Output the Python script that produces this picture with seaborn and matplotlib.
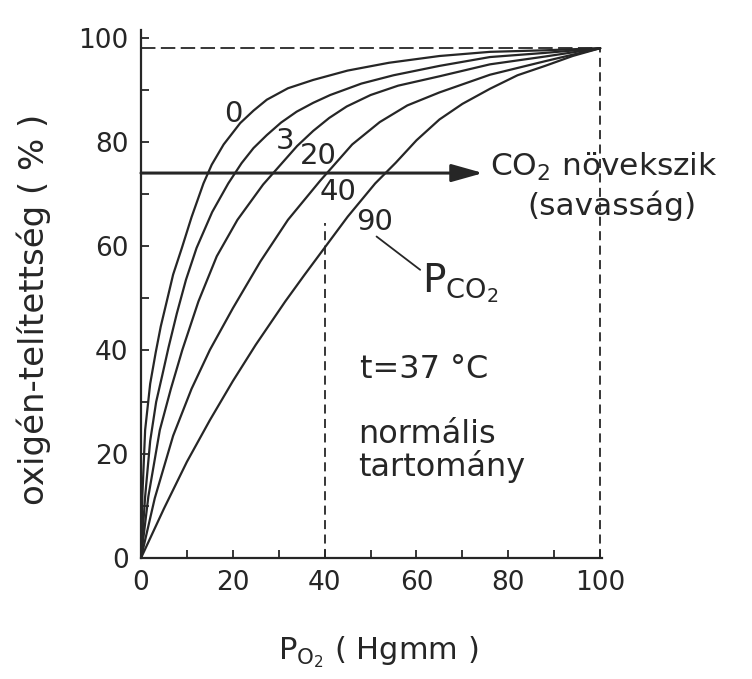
import matplotlib
matplotlib.use("Agg")
import matplotlib.pyplot as plt
import numpy as np
import pandas as pd
import seaborn as sns

# ---------------- data ----------------
pco2_labels = ["0", "3", "20", "40", "90"]

po2_c0 = [0, 0.3, 0.9, 2.0, 3.2, 4.3, 5.6, 7.0, 8.9, 11.0, 13.6, 15.4, 18.0, 21.6, 24.5, 27.4, 32.0, 37.5, 45.0, 54.0, 65.0, 76.0, 88.0, 100]
sat_c0 = [0, 12, 24.6, 33.5, 39.5, 44.5, 49.3, 54.5, 59.6, 65.5, 72.0, 75.6, 79.5, 83.6, 86.0, 88.1, 90.3, 91.9, 93.7, 95.2, 96.5, 97.3, 97.6, 98.0]

po2_c3 = [0, 0.9, 2.0, 3.3, 4.6, 6.0, 7.8, 9.8, 12.1, 15.5, 19.0, 21.9, 24.5, 27.4, 30.5, 33.9, 37.5, 41.2, 48.0, 55.0, 65.0, 76.0, 88.0, 100]
sat_c3 = [0, 11.8, 22.5, 30.0, 35.0, 40.5, 47.0, 53.5, 59.6, 66.5, 72.0, 75.9, 78.8, 81.3, 83.7, 85.8, 87.5, 89.0, 91.2, 92.8, 94.6, 96.3, 97.1, 98]

po2_c20 = [0, 1.6, 4.1, 6.5, 9.0, 12.5, 16.5, 21.0, 26.6, 31.0, 34.0, 37.5, 41.0, 44.8, 50.0, 56.0, 65.0, 76.0, 88.0, 100]
sat_c20 = [0, 11.8, 24.6, 32.5, 40.0, 49.3, 58.0, 65.0, 71.8, 76.2, 79.2, 82.1, 84.6, 86.8, 89.0, 90.8, 92.6, 94.9, 96.4, 98]

po2_c40 = [0, 3.0, 7.0, 11.0, 15.0, 20.0, 26.0, 32.0, 39.0, 46.0, 52.0, 58.0, 65.0, 76.0, 88.0, 100]
sat_c40 = [0, 11.5, 23.5, 32.5, 40.0, 48.0, 57.0, 65.0, 72.5, 79.5, 83.8, 87.0, 89.5, 92.9, 95.5, 98]

po2_c90 = [0, 5.0, 10.0, 15.0, 20.0, 25.0, 31.4, 35.5, 39.7, 45.0, 51.0, 55.5, 60.0, 65.0, 70.0, 76.0, 82.0, 88.0, 94.0, 100]
sat_c90 = [0, 9.5, 18.5, 26.5, 34.0, 41.0, 49.3, 54.3, 59.3, 65.6, 72.0, 76.0, 80.3, 84.3, 87.3, 90.2, 92.8, 94.6, 96.5, 98]

x_ticks = [0, 20, 40, 60, 80, 100]
y_ticks = [0, 20, 40, 60, 80, 100]
saturation_max = 98          # dashed horizontal line
normal_po2 = 40              # dashed vertical line (normal range start)
normal_top = 64.4
arrow_y = 74.0
arrow_end = 74.5

# ---------------- build frame ----------------
curves = [(po2_c0, sat_c0), (po2_c3, sat_c3), (po2_c20, sat_c20),
          (po2_c40, sat_c40), (po2_c90, sat_c90)]
rows = []
for lab, (xs, ys) in zip(pco2_labels, curves):
    for xv, yv in zip(xs, ys):
        rows.append({"pco2": lab, "po2": xv, "sat": yv})
df = pd.DataFrame(rows)

# ---------------- style ----------------
sns.set_theme(style="ticks")
plt.rcParams["font.family"] = ["DejaVu Sans"]
plt.rcParams["mathtext.fontset"] = "dejavusans"
ink = "#262626"

fig = plt.figure(figsize=(7.52, 6.79), dpi=100)
fig.patch.set_facecolor("white")
ax = fig.add_axes([141 / 752, 121 / 679, 461 / 752, 528 / 679])
ax.set_facecolor("white")

sns.lineplot(data=df, x="po2", y="sat", units="pco2", estimator=None,
             sort=False, color=ink, lw=1.6, ax=ax, legend=False)

ax.set_xlim(0, 100.4)
ax.set_ylim(0, 101.5)
ax.set_xticks(x_ticks)
ax.set_yticks(y_ticks)
ax.set_xticks([10, 30, 50, 70, 90], minor=True)
ax.set_yticks([10, 30, 50, 70, 90], minor=True)
ax.tick_params(which="both", direction="in", length=6, width=1.3, colors=ink)
ax.tick_params(which="major", labelsize=19, pad=9, labelcolor=ink)
for s in ["top", "right"]:
    ax.spines[s].set_visible(False)
for s in ["left", "bottom"]:
    ax.spines[s].set_linewidth(1.6)
    ax.spines[s].set_color(ink)

# dashed guide lines
ax.plot([0, 100], [saturation_max, saturation_max], color=ink, lw=1.3,
        ls=(0, (8, 3)))
ax.plot([100, 100], [0, saturation_max], color=ink, lw=1.3, ls=(0, (5, 3)))
ax.plot([normal_po2, normal_po2], [0, normal_top], color=ink, lw=1.3,
        ls=(0, (5, 3)))

# arrow
ax.annotate("", xy=(arrow_end, arrow_y), xytext=(0, arrow_y),
            arrowprops=dict(arrowstyle="-|>,head_length=1.6,head_width=0.45",
                            lw=2.2, color=ink, shrinkA=0, shrinkB=0))

# curve labels
label_pos = {"0": (20.2, 85.4), "3": (31.4, 80.1), "20": (38.6, 77.2),
             "40": (42.8, 70.4), "90": (50.8, 64.5)}
for lab in pco2_labels:
    ax.text(*label_pos[lab], lab, fontsize=21, color=ink,
            ha="center", va="center")

ax.plot([51.3, 60.8], [61.8, 55.4], color=ink, lw=1.3)
ax.text(61.2, 51.0, r"$\mathregular{P_{CO_2}}$", fontsize=28, color=ink,
        ha="left", va="baseline")

ax.text(76.0, 73.4, r"$\mathregular{CO_2}$ növekszik", fontsize=22.5, color=ink,
        ha="left", va="baseline")
ax.text(84.2, 66.0, "(savasság)", fontsize=22.5, color=ink,
        ha="left", va="baseline")

ax.text(47.6, 36.3, "t=37 °C", fontsize=23, color=ink, ha="left", va="center")
ax.text(47.3, 23.8, "normális", fontsize=23, color=ink, ha="left", va="center")
ax.text(47.3, 17.5, "tartomány", fontsize=23, color=ink, ha="left", va="center")

# axis labels
ax.set_xlabel(r"$\mathregular{P_{O_2}}$ ( Hgmm )", fontsize=22, color=ink)
ax.xaxis.set_label_coords(0.515, -0.145)
ax.set_ylabel("oxigén-telítettség ( % )", fontsize=24.5, color=ink)
ax.yaxis.set_label_coords(-0.195, 0.47)

fig.savefig("out.png", dpi=100, facecolor="white")
